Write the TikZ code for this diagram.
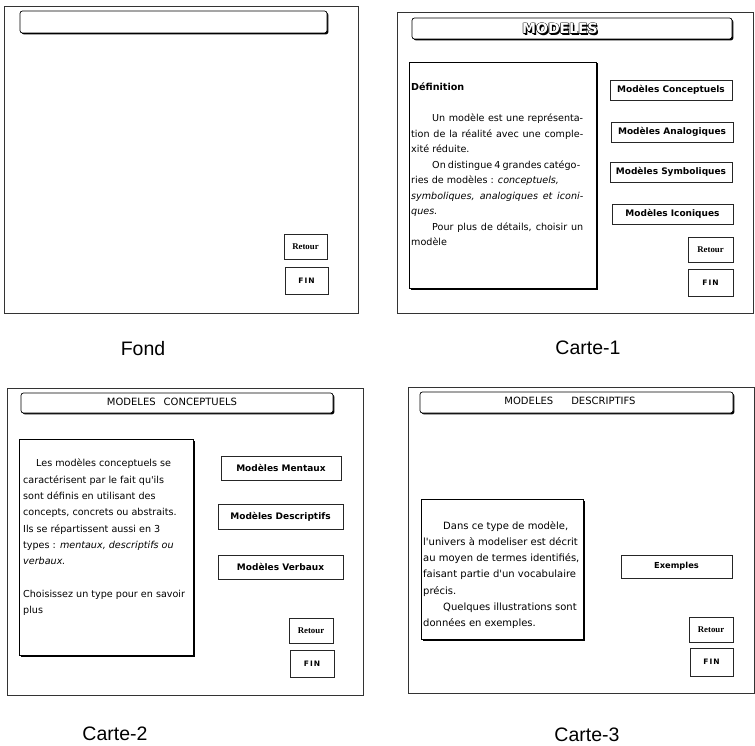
\documentclass[tikz,border=0pt]{standalone}
\usepackage{fontspec}
\usetikzlibrary{shadows}
\newfontfamily\scrfont{DejaVu Sans}
\newfontfamily\labfont{Liberation Sans}
\newfontfamily\retfont{Liberation Serif}
\newfontfamily\finfont[LetterSpace=15]{DejaVu Sans}
\newcommand\hollowtxt[1]{%
  \makebox[0pt][l]{\hspace{1.4pt}\raisebox{-1.4pt}{#1}}%
  \makebox[0pt][l]{\raisebox{0.6pt}{#1}}%
  \makebox[0pt][l]{\raisebox{-0.6pt}{#1}}%
  \makebox[0pt][l]{\hspace{0.6pt}#1}%
  \makebox[0pt][l]{\hspace{-0.6pt}#1}%
  \textcolor{white}{#1}}
\newcommand\jline[2]{\makebox[#1][s]{#2}}
\begin{document}
\begin{tikzpicture}[x=1pt,y=-1pt,
  screen/.style={draw=black!80, line width=0.7pt, inner sep=0pt},
  titlebar/.style={draw=black, line width=0.7pt, rounded corners=2.5pt, fill=white, inner sep=0pt,
    drop shadow={shadow xshift=1.4pt, shadow yshift=-1.4pt, opacity=1, fill=black}},
  textbox/.style={draw=black, line width=0.7pt, fill=white, inner sep=0pt,
    drop shadow={shadow xshift=1.5pt, shadow yshift=-1.5pt, opacity=1, fill=black}},
  btn/.style={draw=black!85, line width=0.7pt, fill=white, inner sep=0pt,
    drop shadow={shadow xshift=0.6pt, shadow yshift=-0.6pt, opacity=1, fill=black!70}},
  btnA/.style={btn, font=\scrfont\bfseries\fontsize{9}{10}\selectfont},
  btnB/.style={btn, font=\scrfont\bfseries\fontsize{9}{10}\selectfont},
  btnC/.style={btn, font=\scrfont\bfseries\fontsize{8.3}{10}\selectfont},
  retbtn/.style={btn, font=\retfont\bfseries\fontsize{8.8}{10}\selectfont},
  finbtn/.style={btn, font=\finfont\bfseries\fontsize{7.5}{9}\selectfont},
  caption/.style={font=\labfont\fontsize{19.5}{22}\selectfont, inner sep=0pt},
  titletext/.style={font=\scrfont\fontsize{10}{12}\selectfont, inner sep=0pt},
  bodytext/.style={align=left, anchor=north west, inner sep=0pt}
]
\useasboundingbox (0,0) rectangle (755,746);

% ---------------- Fond ----------------
\node[screen, minimum width=354pt, minimum height=307pt] (f-frame) at (181,159.5) {};
\node[titlebar, minimum width=307pt, minimum height=22pt] (f-title) at (173.5,22) {};
\node[retbtn, minimum width=43pt, minimum height=25pt] (f-ret) at (305.5,246.5) {Retour};
\node[finbtn, minimum width=43pt, minimum height=27pt] (f-fin) at (306.5,280.5) {FIN};
\node[caption] (f-cap) at (143,349) {Fond};

% ---------------- Carte-1 ----------------
\node[screen, minimum width=356pt, minimum height=301pt] (c1-frame) at (575,162.5) {};
\node[titlebar, minimum width=320pt, minimum height=21pt] (c1-title) at (572,28.5) {};
\node[font=\scrfont\bfseries\fontsize{14}{16}\selectfont, inner sep=0pt] (c1-titletext) at (560,29) {\hollowtxt{MODELES}};
\node[textbox, minimum width=187pt, minimum height=226pt] (c1-box) at (502.5,175) {};
\node[bodytext, font=\scrfont\fontsize{9.6}{15.5}\selectfont] (c1-text) at (411,83) {%
  \textbf{Définition}\\
  \strut\\
  \hspace*{21pt}\jline{151pt}{Un modèle est une représenta-}\\
  \jline{172pt}{tion de la réalité avec une comple-}\\
  xité réduite.\\
  \hspace*{21pt}\jline{148pt}{On distingue 4 grandes catégo-}\\
  ries de modèles : \textit{conceptuels,}\\
  \jline{172pt}{\itshape symboliques, analogiques et iconi-}\\
  \textit{ques.}\\
  \hspace*{21pt}\jline{151pt}{Pour plus de détails, choisir un}\\
  modèle};
\node[btnA, minimum width=122pt, minimum height=20pt] (c1-conc) at (671,90) {Modèles Conceptuels};
\node[btnA, minimum width=122pt, minimum height=20pt] (c1-anal) at (672,132) {Modèles Analogiques};
\node[btnA, minimum width=122pt, minimum height=20pt] (c1-symb) at (671,172) {Modèles Symboliques};
\node[btnA, minimum width=121pt, minimum height=20pt] (c1-icon) at (672.5,214) {Modèles Iconiques};
\node[retbtn, minimum width=45pt, minimum height=25pt] (c1-ret) at (710.5,249.5) {Retour};
\node[finbtn, minimum width=45pt, minimum height=27pt] (c1-fin) at (710.5,282.5) {FIN};
\node[caption] (c1-cap) at (588,348) {Carte-1};

% ---------------- Carte-2 ----------------
\node[screen, minimum width=356pt, minimum height=307pt] (c2-frame) at (185,541.5) {};
\node[titlebar, minimum width=312pt, minimum height=20pt] (c2-title) at (177,403) {};
\node[titletext] (c2-titletext) at (172,401.5) {MODELES\hspace{8pt}CONCEPTUELS};
\node[textbox, minimum width=174pt, minimum height=216pt] (c2-box) at (106,547) {};
\node[bodytext, font=\scrfont\fontsize{9.6}{16.3}\selectfont] (c2-text) at (23,459) {%
  \hspace*{13pt}Les modèles conceptuels se\\
  caractérisent par le fait qu'ils\\
  sont définis en utilisant des\\
  concepts, concrets ou abstraits.\\
  Ils se répartissent aussi en 3\\
  types : \textit{mentaux, descriptifs ou}\\
  \textit{verbaux.}\\
  \strut\\
  Choisissez un type pour en savoir\\
  plus};
\node[btnB, minimum width=120pt, minimum height=24pt] (c2-ment) at (281,468) {Modèles Mentaux};
\node[btnB, minimum width=125pt, minimum height=25pt] (c2-desc) at (280.5,516.5) {Modèles Descriptifs};
\node[btnB, minimum width=125pt, minimum height=24pt] (c2-verb) at (280.5,567) {Modèles Verbaux};
\node[retbtn, minimum width=44pt, minimum height=25pt] (c2-ret) at (311,630.5) {Retour};
\node[finbtn, minimum width=44pt, minimum height=27pt] (c2-fin) at (312,663.5) {FIN};
\node[caption] (c2-cap) at (115,734) {Carte-2};

% ---------------- Carte-3 ----------------
\node[screen, minimum width=346pt, minimum height=306pt] (c3-frame) at (581,540) {};
\node[titlebar, minimum width=313pt, minimum height=21pt] (c3-title) at (576.5,402.5) {};
\node[titletext] (c3-titletext) at (570,401) {MODELES\hspace{18pt}DESCRIPTIFS};
\node[textbox, minimum width=162pt, minimum height=140pt] (c3-box) at (502,569) {};
\node[bodytext, font=\scrfont\fontsize{10}{16.3}\selectfont] (c3-text) at (423,520.8) {%
  \hspace*{20pt}Dans ce type de modèle,\\
  l'univers à modeliser est décrit\\
  au moyen de termes identifiés,\\
  faisant partie d'un vocabulaire\\
  précis.\\
  \hspace*{20pt}Quelques illustrations sont\\
  données en exemples.};
\node[btnC, minimum width=111pt, minimum height=23pt] (c3-ex) at (676.5,566.5) {Exemples};
\node[retbtn, minimum width=44pt, minimum height=25pt] (c3-ret) at (711,629.5) {Retour};
\node[finbtn, minimum width=43pt, minimum height=28pt] (c3-fin) at (711.5,662) {FIN};
\node[caption] (c3-cap) at (587,735) {Carte-3};
\end{tikzpicture}
\end{document}
